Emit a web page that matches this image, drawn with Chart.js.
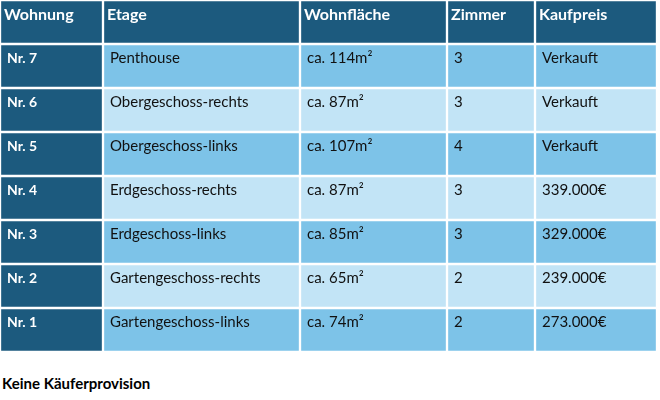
<!DOCTYPE html>
<html><head><meta charset="utf-8">
<script src="https://cdn.jsdelivr.net/npm/chart.js@4"></script>
<style>
body{margin:0;background:#fff;width:660px;height:400px;overflow:hidden;font-family:Lato,"Open Sans",sans-serif}
#wrap{position:absolute;left:0;top:0;width:657px;height:352px}
#foot{position:absolute;left:2px;top:374px;font-weight:bold;font-size:15px;color:#000}
</style></head><body>
<div id="wrap"><canvas id="c"></canvas></div>
<div id="foot">Keine Käuferprovision</div>
<script>
const columns = ["Wohnung","Etage","Wohnfläche","Zimmer","Kaufpreis"];
const wohnung = ["Nr. 7","Nr. 6","Nr. 5","Nr. 4","Nr. 3","Nr. 2","Nr. 1"];
const etage = ["Penthouse","Obergeschoss-rechts","Obergeschoss-links","Erdgeschoss-rechts","Erdgeschoss-links","Gartengeschoss-rechts","Gartengeschoss-links"];
const flaeche = ["ca. 114m²","ca. 87m²","ca. 107m²","ca. 87m²","ca. 85m²","ca. 65m²","ca. 74m²"];
const zimmer = ["3","3","4","3","3","2","2"];
const kaufpreis = ["Verkauft","Verkauft","Verkauft","339.000€","329.000€","239.000€","273.000€"];
const colEdges = [0,103,300,447,535,657];

const rowLabels = ["header"].concat(wohnung);
const table = [columns].concat(wohnung.map((w,i)=>[w,etage[i],flaeche[i],zimmer[i],kaufpreis[i]]));
const DARK="#1c5a7e", MED="#7dc3e8", LIGHT="#c2e4f6";
const datasets = columns.map((c,ci)=>({
  label:c,
  data: rowLabels.map(()=>[colEdges[ci],colEdges[ci+1]]),
  backgroundColor: ctx=>{const r=ctx.dataIndex; if(r===0||ci===0) return DARK; return r%2===1?MED:LIGHT;},
  borderColor:"#fff", borderWidth:1.5, borderSkipped:false,
  barPercentage:1, categoryPercentage:1, grouped:false
}));
const textPlugin={id:"txt",afterDatasetsDraw(ch){
  const g=ch.ctx, xs=ch.scales.x, ys=ch.scales.y;
  const h=ys.getPixelForValue(1)-ys.getPixelForValue(0);
  g.save(); g.textBaseline="middle";
  table.forEach((row,r)=>{
    const top=ys.getPixelForValue(r)-h/2;
    row.forEach((t,ci)=>{
      const x=xs.getPixelForValue(colEdges[ci])+(r===0?4:7);
      if(r===0){g.font="bold 16px Lato, sans-serif";g.fillStyle="#fff";g.fillText(t,x,top+15);}
      else if(ci===0){g.font="bold 14px Lato, sans-serif";g.fillStyle="#fff";g.fillText(t,x,top+14);}
      else{g.font="15px Lato, sans-serif";g.fillStyle="#111";g.fillText(t,x,top+14);}
    });
  });
  g.restore();
}};
new Chart(document.getElementById("c"),{
  type:"bar",
  data:{labels:rowLabels,datasets},
  options:{indexAxis:"y",responsive:true,maintainAspectRatio:false,animation:false,
    layout:{padding:0},
    plugins:{legend:{display:false},tooltip:{enabled:false}},
    scales:{x:{type:"linear",min:0,max:657,display:false},
            y:{display:false,offset:true,grid:{display:false}}}},
  plugins:[textPlugin]
});
</script></body></html>
